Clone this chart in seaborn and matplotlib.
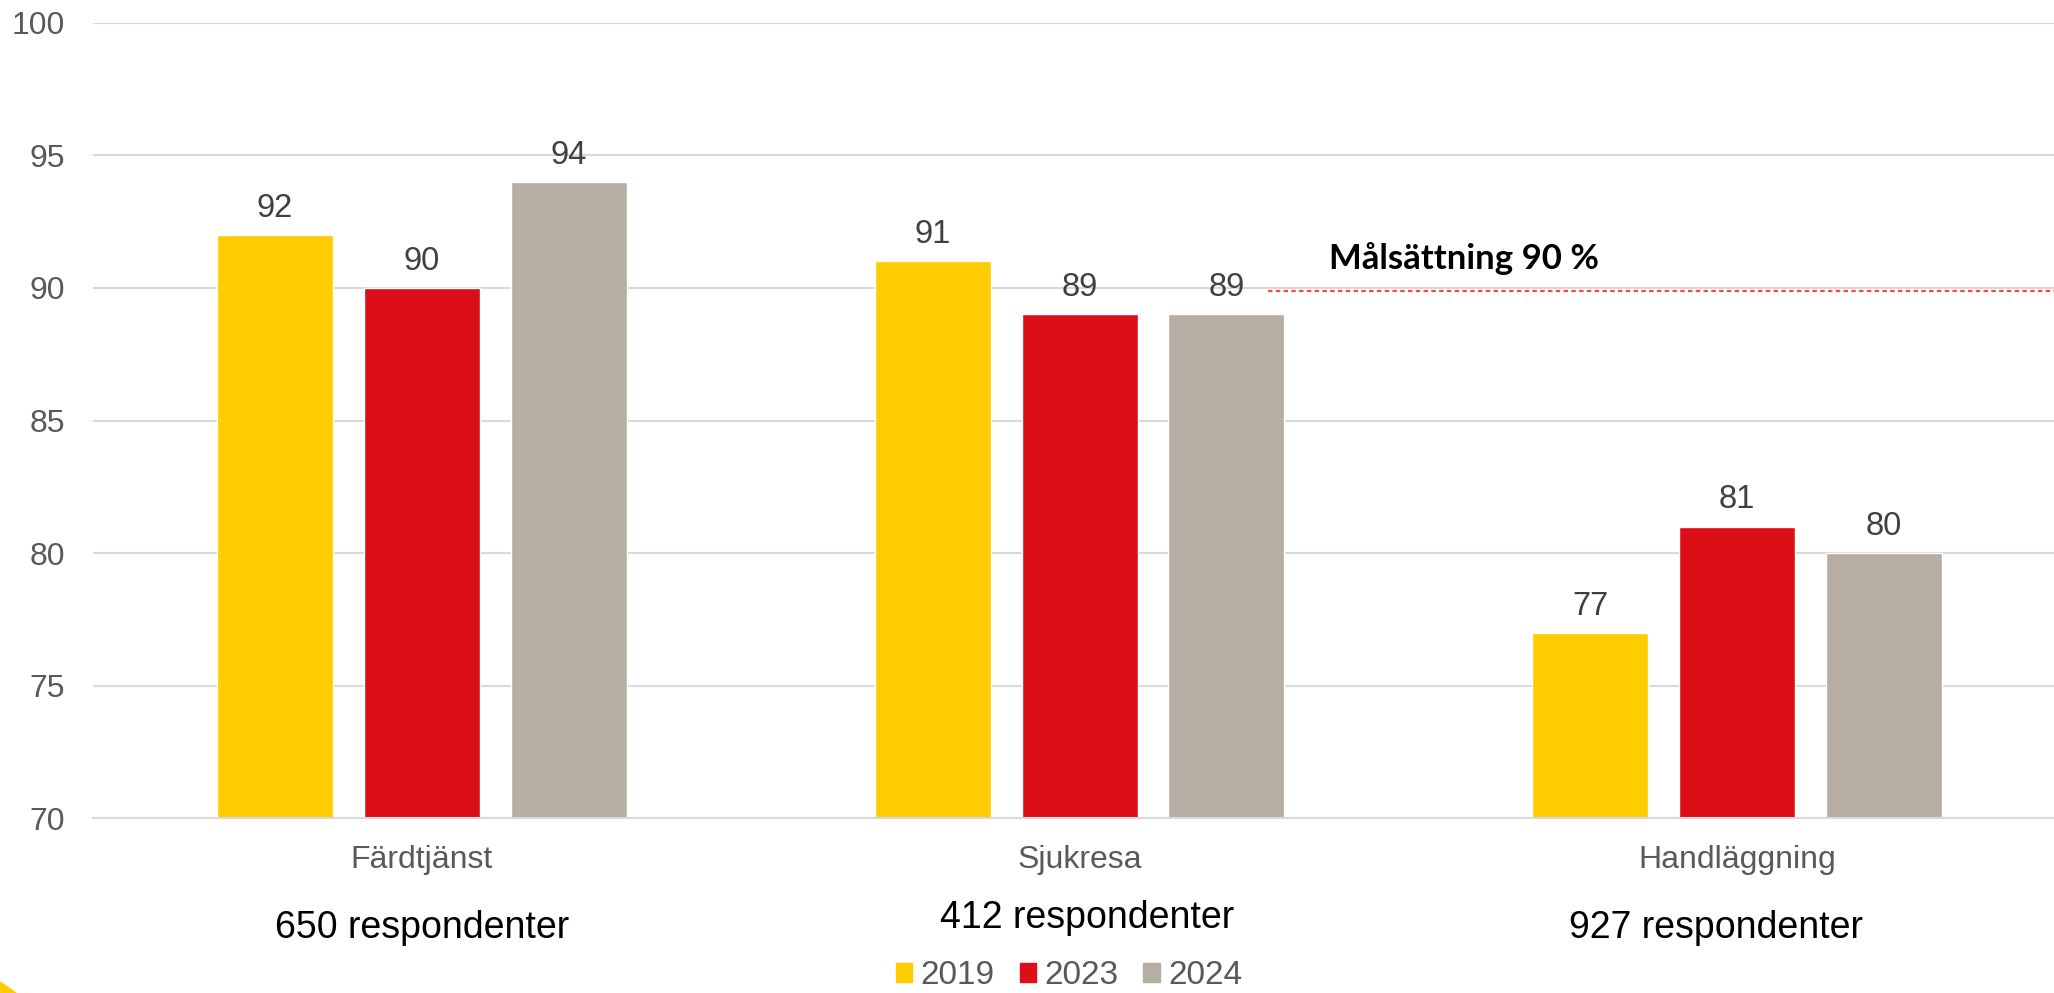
import pandas as pd
import matplotlib.pyplot as plt
import seaborn as sns
from matplotlib.patches import Polygon

# data
categories = ['Färdtjänst', 'Sjukresa', 'Handläggning']
years = ['2019', '2023', '2024']
values_2019 = [92, 91, 77]
values_2023 = [90, 89, 81]
values_2024 = [94, 89, 80]
respondents = ['650 respondenter', '412 respondenter', '927 respondenter']
target = 90
target_label = 'Målsättning 90 %'

colors = ['#FFCC00', '#DC0E17', '#B6ADA3']

df = pd.DataFrame({
    'kategori': categories * 3,
    'år': [y for y in years for _ in categories],
    'värde': values_2019 + values_2023 + values_2024,
})

sns.set_style('white')
plt.rcParams['font.family'] = ['Liberation Sans', 'DejaVu Sans']

fig = plt.figure(figsize=(20.54, 9.93), dpi=100)
ax = fig.add_axes([0.0453, 0.176, 0.9606, 0.801])

sns.barplot(data=df, x='kategori', y='värde', hue='år', palette=colors,
            width=0.67, gap=0.21, ax=ax, legend=False, saturation=1)

ax.set_ylim(70, 100)
ax.set_xlim(-0.5, 2.5)
ax.set_yticks(range(70, 101, 5))
ax.yaxis.grid(True, color='#D9D9D9', linewidth=1.5)
ax.set_axisbelow(True)
for s in ['top', 'right', 'left']:
    ax.spines[s].set_visible(False)
ax.spines['bottom'].set_color('#D9D9D9')
ax.spines['bottom'].set_linewidth(1.5)

ax.set_xlabel('')
ax.set_ylabel('')
ax.tick_params(axis='y', length=0, labelsize=23, labelcolor='#595959', pad=20)
ax.tick_params(axis='x', which='major', length=0, labelsize=23, labelcolor='#595959', pad=19)
ax.set_xticks([-0.5, 0.5, 1.5], minor=True)
ax.tick_params(axis='x', which='minor', length=9, width=1.5, color='#D9D9D9')

# value labels
for cont in ax.containers:
    ax.bar_label(cont, fmt='%d', padding=8, fontsize=23.5, color='#404040')

# target line
ax.plot([1.287, 2.6], [target - 0.1, target - 0.1], color='#FF4545',
        linestyle=(0, (2, 1.5)), linewidth=1.6, clip_on=False)
ax.text(1.379, 91.1, target_label, fontsize=25, fontweight='bold',
        family=['Lato', 'DejaVu Sans'], color='black', va='center', ha='left')

# respondent counts under the categories
resp_x = [422 / 2054, 1087 / 2054, 1716 / 2054]
resp_y = [1 - 928 / 993, 1 - 918 / 993, 1 - 928 / 993]
for txt, x, y in zip(respondents, resp_x, resp_y):
    fig.text(x, y, txt, fontsize=27, color='black', ha='center', va='center')

# legend
handles = [plt.Rectangle((0, 0), 1, 1, color=c) for c in colors]
fig.legend(handles, years, loc='center', bbox_to_anchor=(1069 / 2054, 1 - 976 / 993),
           ncol=3, frameon=False, fontsize=24, labelcolor='#595959',
           handlelength=0.5, handleheight=0.5, handletextpad=0.24, columnspacing=0.75)

# small yellow corner decoration
fig.patches.append(Polygon([[0, 0], [16 / 2054, 0], [0, 11 / 993]], closed=True,
                           transform=fig.transFigure, color='#FFCC00', figure=fig))

fig.savefig('out.png', dpi=100)
